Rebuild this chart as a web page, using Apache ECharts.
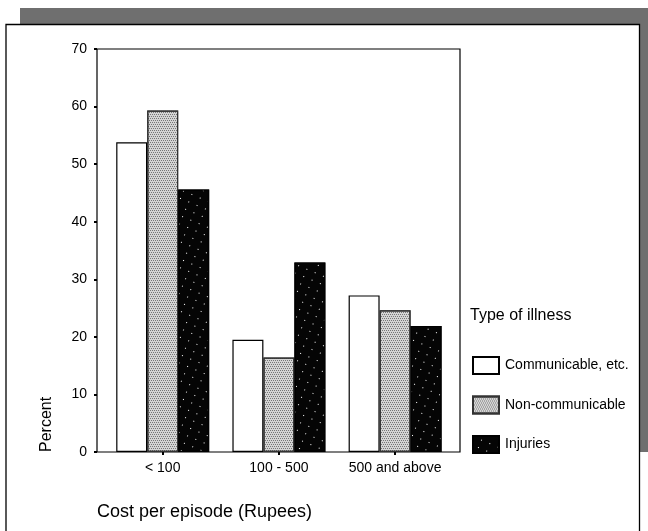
<!DOCTYPE html>
<html>
<head>
<meta charset="utf-8">
<script src="https://cdn.jsdelivr.net/npm/echarts@6/dist/echarts.min.js"></script>
<style>
html,body{margin:0;padding:0;background:#fff;}
#chart{width:648px;height:531px;}
</style>
</head>
<body>
<div id="chart"></div>
<script>
const categories = ['< 100', '100 - 500', '500 and above'];
const communicable = [53.8, 19.5, 27.2];
const nonCommunicable = [59.3, 16.4, 24.6];
const injuries = [45.6, 32.9, 21.9];
const seriesNames = ['Communicable, etc.', 'Non-communicable', 'Injuries'];
const yTicks = [0, 10, 20, 30, 40, 50, 60, 70];

const FONT = '"Liberation Sans", Arial, sans-serif';
const chart = echarts.init(document.getElementById('chart'), null, {renderer: 'canvas'});

const option = {
  backgroundColor: '#ffffff',
  animation: false,
  textStyle: {fontFamily: FONT, color: '#000'},
  grid: [
    {left: 97, right: 188, top: 49, bottom: 79, show: true, borderColor: '#000', borderWidth: 1.2, backgroundColor: 'transparent'},
    {left: 104.6, right: 194.8, top: 49, bottom: 79}
  ],
  xAxis: [
    {gridIndex: 0, type: 'value', show: false, min: 0, max: 1},
    {gridIndex: 1, type: 'category', data: categories,
     axisLine: {show: false},
     axisTick: {show: true, alignWithLabel: true, length: 3, lineStyle: {color: '#000', width: 2}},
     axisLabel: {color: '#000', fontSize: 14, margin: 9, interval: 0, fontFamily: FONT}}
  ],
  yAxis: [
    {gridIndex: 0, type: 'value', min: yTicks[0], max: yTicks[yTicks.length - 1], interval: 10,
     axisLine: {show: false}, splitLine: {show: false},
     axisTick: {show: true, length: 3, lineStyle: {color: '#000', width: 2}},
     axisLabel: {color: '#000', fontSize: 14, margin: 10, fontFamily: FONT}},
    {gridIndex: 1, type: 'value', min: 0, max: 70, show: false, splitLine: {show: false}}
  ],
  legend: {
    orient: 'vertical', left: 467, top: 351,
    itemWidth: 26, itemHeight: 17, itemGap: 20.5,
    icon: 'rect',
    data: seriesNames,
    textStyle: {color: '#000', fontSize: 14, fontFamily: FONT, padding: [0, 0, 0, 1]}
  },
  series: [
    {name: seriesNames[0], type: 'bar', xAxisIndex: 1, yAxisIndex: 1, data: communicable,
     barGap: '0%', barCategoryGap: '20%',
     itemStyle: {color: '#ffffff', borderColor: '#000', borderWidth: 1.2}},
    {name: seriesNames[1], type: 'bar', xAxisIndex: 1, yAxisIndex: 1, data: nonCommunicable,
     barGap: '0%', barCategoryGap: '20%',
     itemStyle: {color: '#d4d4d4', borderColor: '#333', borderWidth: 1.2,
       decal: {symbol: 'rect', symbolSize: 1, color: 'rgba(40,40,40,0.55)',
               dashArrayX: [[1, 1], [0, 1, 1, 0]], dashArrayY: [1, 1], rotation: 0}}},
    {name: seriesNames[2], type: 'bar', xAxisIndex: 1, yAxisIndex: 1, data: injuries,
     barGap: '0%', barCategoryGap: '20%',
     itemStyle: {color: '#050505', borderColor: '#000', borderWidth: 1.2,
       decal: {symbol: 'rect', symbolSize: 1, color: '#ffffff',
               dashArrayX: [[1, 8]], dashArrayY: [1, 7], rotation: 0.4}}}
  ],
  graphic: [
    {type: 'rect', shape: {x: 20, y: 8, width: 628, height: 16}, style: {fill: '#6f6f6f'}, silent: true},
    {type: 'rect', shape: {x: 640, y: 8, width: 8, height: 444}, style: {fill: '#6f6f6f'}, silent: true},
    {type: 'polyline', shape: {points: [[6, 531], [6, 24.5], [639.5, 24.5], [639.5, 531]]},
     style: {stroke: '#000', lineWidth: 1.3, fill: null}, silent: true},
    {type: 'text', x: 55, y: 452, rotation: Math.PI / 2,
     style: {text: 'Percent', fontSize: 16, fontFamily: FONT, fill: '#000', textAlign: 'left', textVerticalAlign: 'bottom'}},
    {type: 'text', x: 97, y: 512,
     style: {text: 'Cost per episode (Rupees)', fontSize: 18, fontFamily: FONT, fill: '#000', textAlign: 'left', textVerticalAlign: 'middle'}},
    {type: 'text', x: 470, y: 316,
     style: {text: 'Type of illness', fontSize: 16, fontFamily: FONT, fill: '#000', textAlign: 'left', textVerticalAlign: 'middle'}}
  ]
};
chart.setOption(option);
</script>
</body>
</html>
